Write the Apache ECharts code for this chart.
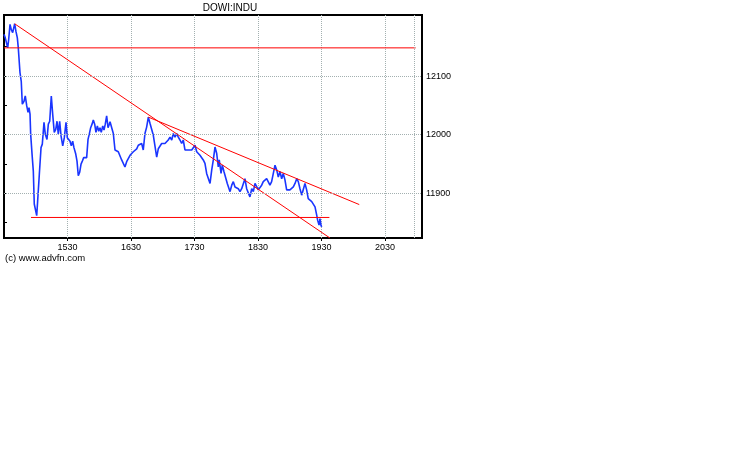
<!DOCTYPE html>
<html>
<head>
<meta charset="utf-8">
<script src="https://cdn.jsdelivr.net/npm/echarts@6/dist/echarts.min.js"></script>
<style>
html,body{margin:0;padding:0;background:#fff;}
#chart{width:738px;height:475px;}
</style>
</head>
<body>
<div id="chart"></div>
<script>
// Time axis: minutes after 14:30
var chartTitle = 'DOWI:INDU';
var creditText = '(c) www.advfn.com';

var times = [0,1.2,2.6,3.5,4.4,5.7,6.9,8.2,10.1,11.3,12.6,13.5,15.1,16.3,17.3,18.9,20.1,21.5,22.7,23.6,24.6,25.2,26.5,27.7,28.6,30,30.9,31.8,33.4,35,36.2,37.8,39,40.6,41.9,43.2,44.7,46,47.5,48.9,50.1,51.3,52.6,53.9,55.5,57,58.6,59.8,61.1,62.4,63.6,64.9,66.1,67.8,69,70.2,71.5,72.8,74,75.3,76.8,78.1,79.4,80.6,81.9,83.2,84.4,85.7,86.9,88.2,89.5,90.7,91.9,93.3,94.5,95.7,97,98.3,99.5,100.2,101.8,103.3,104.9,106.5,108,109.6,111.2,112.7,114.3,115.9,117.5,119.1,120.7,122.2,123.8,125.4,126.9,128.5,130.1,131.6,133.2,134.8,136.4,138,139.6,141.1,142.7,144.3,145.8,147.4,149,150.5,152.1,153.7,155.2,156.9,158.5,160,161.6,163.2,164.7,166.3,167.9,169.4,171,172.6,174.1,175.8,177.4,178.9,180.5,182.1,183.6,185.2,186.8,188.3,189.9,191.5,193,194.7,196.3,197.8,199.4,201,202.5,203.4,205.1,206.3,207.9,209.5,211,212.3,213.6,215.2,216.7,218.3,219.9,221.4,223,224.6,226.1,227.7,229.3,230.8,232.4,234.1,235.6,237.2,238.8,240.3,241.9,243.5,245,246.6,248.2,249.7,251.3,252.9,254.5,256.1,257.7,259.2,260.8,262.4,263.9,265.5,267.1,268.6,270.2,271.8,273.4,275,276.6,278.1,279.7,281.3,282.8,284.4,286,287.5,289.1,290.8,292.3,293.9,295.5,296.4,297.7,298.6,299.5,300.2];
var prices = [12171,12165,12168,12148,12162,12188,12179,12174,12189,12176,12165,12148,12106,12091,12052,12057,12066,12049,12038,12046,12035,12001,11967,11938,11882,11879,11862,11887,11933,11978,11984,12021,12001,11992,12018,12023,12066,12035,12004,12009,12023,12001,12023,11998,11981,11995,12021,11995,11992,11989,11981,11989,11978,11967,11955,11930,11936,11950,11955,11961,11960,11961,11992,12001,12012,12018,12025,12018,12004,12015,12006,12012,12004,12015,12008,12018,12032,12012,12018,12022,12019,12002,11974,11976,11971,11974,11957,11960,11945,11954,11951,11965,11962,11971,11968,11976,11982,11979,11985,11974,12002,12013,12030,12019,12019,11999,11996,11962,11976,11979,11985,11982,11985,11982,11991,11996,11991,12002,11996,12002,11996,11991,11985,11991,11974,11971,11974,11976,11974,11976,11982,11971,11968,11965,11968,11957,11951,11934,11931,11917,11940,11957,11979,11968,11945,11957,11934,11948,11937,11940,11917,11920,11903,11914,11920,11911,11914,11908,11903,11908,11911,11925,11908,11906,11894,11908,11903,11917,11914,11906,11903,11914,11920,11917,11925,11923,11914,11920,11934,11948,11940,11928,11937,11925,11934,11923,11906,11903,11906,11903,11911,11917,11925,11920,11908,11897,11894,11917,11906,11891,11891,11886,11883,11877,11863,11854,11846,11857,11846,11843];

// Drawn study lines (start/end points: [minute, price])
var resistanceLine = [[0,12148],[389,12148]];
var supportLine = [[25.5,11859],[307.5,11859]];
var trendLineA = [[10.1,12189],[308,11824]];
var trendLineB = [[136.4,12030],[335.7,11881]];
var endMarker = 387.5;

// Axes
var xLabelValues = [60,120,180,240,300,360];
var xLabelTexts = ['1530','1630','1730','1830','1930','2030'];
var yLabelValues = [11900,12000,12100];
var yTickValues = [11850,11900,11950,12000,12050,12100,12150];
var yGridValues = [11900,12000,12100];

var fontFam = "'Liberation Sans',Arial,sans-serif";
var gridColor = '#a3b0b0';

var chart = echarts.init(document.getElementById('chart'), null, {renderer:'canvas'});

function pairs(a){ return a.map(function(p){return [p[0],p[1]];}); }
function redLine(d){
  return {type:'line', data:pairs(d), symbol:'none', silent:true, animation:false,
    lineStyle:{color:'#ff0000', width:1}, z:3};
}

var option = {
  animation:false,
  backgroundColor:'#ffffff',
  graphic:[{
    type:'text', x:230, y:8,
    style:{text:chartTitle, font:'10px ' + fontFam, fill:'#000', align:'center', verticalAlign:'middle'}
  },{
    type:'text', x:5, y:258.5,
    style:{text:creditText, font:'9.5px ' + fontFam, fill:'#000', align:'left', verticalAlign:'middle'}
  }],
  grid:{left:4, top:15, width:418, height:223, show:true, borderColor:'#000', borderWidth:2, backgroundColor:'transparent', containLabel:false},
  xAxis:{
    type:'value', min:0, max:395, interval:60,
    axisLine:{show:false},
    axisTick:{show:true, length:3, lineStyle:{color:'#000'}, customValues:xLabelValues},
    splitLine:{show:true, lineStyle:{color:gridColor, type:[1,1], width:1}},
    axisLabel:{
      customValues:xLabelValues,
      margin:5, fontFamily:fontFam, fontSize:9, color:'#000',
      formatter:function(v){ var i = xLabelValues.indexOf(v); return i>=0 ? xLabelTexts[i] : ''; }
    }
  },
  yAxis:{
    type:'value', position:'right', min:11824, max:12204,
    axisLine:{show:false},
    axisTick:{show:true, length:3, lineStyle:{color:'#000'}, customValues:yTickValues},
    splitLine:{show:false},
    axisLabel:{customValues:yLabelValues, margin:4, fontFamily:fontFam, fontSize:9, color:'#000',
      formatter:function(v){return String(v);}}
  },
  series:[
    {
      type:'line', silent:true, symbol:'none', z:1,
      data:[],
      markLine:{
        silent:true, symbol:'none', animation:false,
        label:{show:false},
        lineStyle:{color:gridColor, type:[1,1], width:1},
        data: yGridValues.map(function(v){return {yAxis:v};}).concat([{xAxis:endMarker}])
      }
    },
    {
      type:'line', name:chartTitle, symbol:'none', silent:true, z:2,
      data: times.map(function(t,i){return [t, prices[i]];}),
      lineStyle:{color:'#1a35ff', width:1.6}
    },
    redLine(resistanceLine),
    redLine(supportLine),
    redLine(trendLineA),
    redLine(trendLineB)
  ]
};
chart.setOption(option);
</script>
</body>
</html>
